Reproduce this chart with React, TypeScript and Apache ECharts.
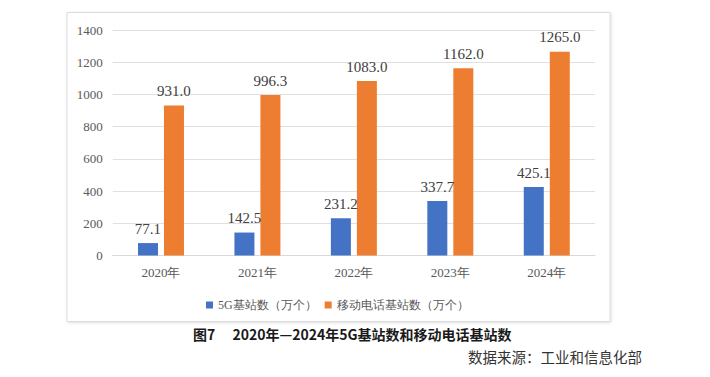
import React, { useEffect, useRef } from "react";
import * as echarts from "echarts";

const categories = ["2020年", "2021年", "2022年", "2023年", "2024年"];
const series5G = [77.1, 142.5, 231.2, 337.7, 425.1];
const seriesMobile = [931.0, 996.3, 1083.0, 1162.0, 1265.0];
const seriesNames = ["5G基站数（万个）", "移动电话基站数（万个）"];
const titleText = "图7　 2020年—2024年5G基站数和移动电话基站数";
const sourceText = "数据来源：工业和信息化部";

const SERIF = "Liberation Serif";

export default function App() {
  const ref = useRef<HTMLDivElement>(null);
  useEffect(() => {
    document.body.style.margin = "0";
    const chart = echarts.init(ref.current!, null, { renderer: "svg" });
    const labelCfg = {
      show: true,
      position: "top",
      distance: 7,
      fontSize: 15,
      fontFamily: SERIF,
      color: "#404040",
      formatter: (p: any) => Number(p.value).toFixed(1),
    };
    chart.setOption({
      animation: false,
      backgroundColor: "#ffffff",
      graphic: [
        {
          type: "rect",
          z: -10,
          shape: { x: 67, y: 12.5, width: 543, height: 309 },
          style: {
            fill: "#ffffff",
            stroke: "#dcdcdc",
            lineWidth: 1,
            shadowBlur: 3,
            shadowOffsetX: 1,
            shadowOffsetY: 1,
            shadowColor: "rgba(0,0,0,0.12)",
          },
        },
        {
          type: "text",
          x: 193,
          y: 334,
          style: {
            text: titleText,
            fontSize: 14,
            fontWeight: "bold",
            fontFamily: "Noto Sans CJK SC",
            fill: "#1a1a1a",
            verticalAlign: "middle",
            align: "left",
          },
        },
        {
          type: "text",
          x: 642,
          y: 356,
          style: {
            text: sourceText,
            fontSize: 14.5,
            fontFamily: "Noto Sans CJK SC",
            fill: "#333333",
            verticalAlign: "middle",
            align: "right",
          },
        },
      ],
      legend: {
        left: 201,
        top: 294,
        itemWidth: 7,
        itemHeight: 7,
        itemGap: 8,
        icon: "rect",
        textStyle: {
          fontSize: 12,
          fontFamily: SERIF,
          color: "#595959",
        },
        data: seriesNames,
      },
      grid: {
        left: 112.75,
        right: 115,
        top: 30,
        bottom: 121.5,
        containLabel: false,
      },
      xAxis: {
        type: "category",
        data: categories,
        axisLine: { show: true, lineStyle: { color: "#d9d9d9" } },
        axisTick: { show: false },
        axisLabel: {
          margin: 10,
          fontSize: 13,
          fontFamily: SERIF,
          color: "#595959",
        },
      },
      yAxis: {
        type: "value",
        min: 0,
        max: 1400,
        interval: 200,
        axisLine: { show: false },
        axisTick: { show: false },
        splitLine: { lineStyle: { color: "#e0e0e0" } },
        axisLabel: {
          margin: 10,
          fontSize: 13,
          fontFamily: SERIF,
          color: "#595959",
          formatter: (v: number) => String(v),
        },
      },
      series: [
        {
          name: seriesNames[0],
          type: "bar",
          data: series5G,
          barWidth: 20,
          barGap: "30%",
          itemStyle: { color: "#4472C4" },
          label: labelCfg,
        },
        {
          name: seriesNames[1],
          type: "bar",
          data: seriesMobile,
          barWidth: 20,
          barGap: "30%",
          itemStyle: { color: "#ED7D31" },
          label: labelCfg,
        },
      ],
    });
    return () => chart.dispose();
  }, []);
  return <div ref={ref} style={{ width: 710, height: 377 }} />;
}
